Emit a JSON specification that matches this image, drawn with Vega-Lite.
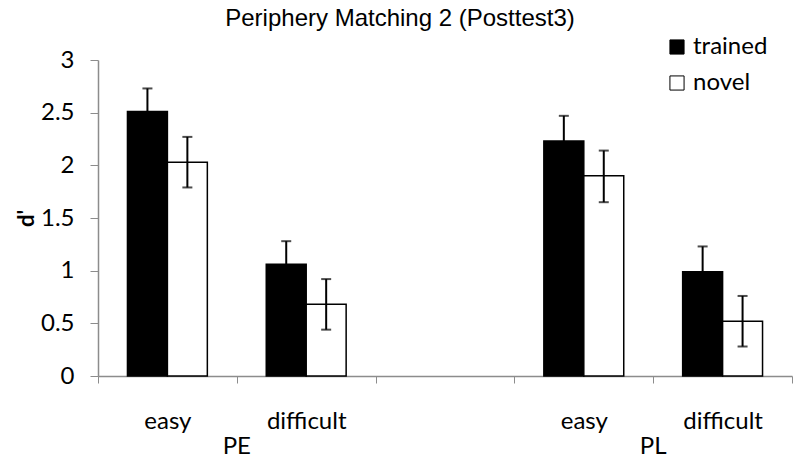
{
  "$schema": "https://vega.github.io/schema/vega-lite/v6.json",
  "width": 694,
  "height": 316,
  "autosize": {"type": "none"},
  "padding": {"left": 98, "top": 60, "right": 8, "bottom": 90},
  "background": "white",
  "title": {
    "text": "Periphery Matching 2 (Posttest3)",
    "font": "Liberation Sans",
    "fontSize": 24,
    "fontWeight": "normal",
    "color": "black",
    "anchor": "middle",
    "frame": "group",
    "dx": -45,
    "offset": 4
  },
  "config": {
    "view": {"stroke": null},
    "axis": {"grid": false}
  },
  "datasets": {
    "bars": [
      {"cat": "PE-easy", "cond": "trained", "d": 2.51, "lo": 2.29, "hi": 2.73},
      {"cat": "PE-easy", "cond": "novel", "d": 2.03, "lo": 1.79, "hi": 2.27},
      {"cat": "PE-difficult", "cond": "trained", "d": 1.06, "lo": 0.84, "hi": 1.28},
      {"cat": "PE-difficult", "cond": "novel", "d": 0.68, "lo": 0.44, "hi": 0.92},
      {"cat": "PL-easy", "cond": "trained", "d": 2.23, "lo": 1.99, "hi": 2.47},
      {"cat": "PL-easy", "cond": "novel", "d": 1.9, "lo": 1.65, "hi": 2.14},
      {"cat": "PL-difficult", "cond": "trained", "d": 0.99, "lo": 0.75, "hi": 1.23},
      {"cat": "PL-difficult", "cond": "novel", "d": 0.52, "lo": 0.28, "hi": 0.76}
    ],
    "groups": [
      {"at": "PE-difficult", "label": "PE"},
      {"at": "PL-difficult", "label": "PL"}
    ]
  },
  "layer": [
    {
      "data": {"name": "bars"},
      "mark": {"type": "bar", "stroke": "black", "strokeWidth": 1.5},
      "encoding": {
        "x": {
          "field": "cat",
          "type": "nominal",
          "scale": {"domain": ["PE-easy", "PE-difficult", "gap", "PL-easy", "PL-difficult"], "paddingInner": 0, "paddingOuter": 0},
          "axis": {
            "title": null,
            "labelExpr": "datum.value == 'gap' ? '' : split(datum.value, '-')[1]",
            "labelAngle": 0,
            "labelFont": "Lato",
            "labelFontSize": 24,
            "labelColor": "black",
            "labelPadding": 26,
            "tickBand": "extent",
            "tickSize": 7,
            "tickColor": "#8c8c8c",
            "domainColor": "#8c8c8c",
            "domainWidth": 1.5
          }
        },
        "xOffset": {
          "field": "cond",
          "type": "nominal",
          "scale": {"domain": ["trained", "novel"], "paddingInner": 0, "paddingOuter": 0.7375}
        },
        "y": {
          "field": "d",
          "type": "quantitative",
          "scale": {"domain": [0, 3], "nice": false},
          "axis": {
            "values": [0, 0.5, 1, 1.5, 2, 2.5, 3],
            "format": "~g",
            "title": "d'",
            "titleFont": "Lato",
            "titleFontWeight": "bold",
            "titleFontSize": 22,
            "titleColor": "black",
            "titlePadding": 2,
            "labelFont": "Lato",
            "labelFontSize": 24,
            "labelColor": "black",
            "labelPadding": 16,
            "tickSize": 8,
            "tickColor": "#8c8c8c",
            "domainColor": "#8c8c8c",
            "domainWidth": 1.5
          }
        },
        "fill": {
          "field": "cond",
          "type": "nominal",
          "scale": {"domain": ["trained", "novel"], "range": ["black", "white"]},
          "legend": {
            "title": null,
            "orient": "none",
            "legendX": 567,
            "legendY": -25,
            "symbolType": "square",
            "symbolSize": 200,
            "symbolStrokeColor": "black",
            "symbolStrokeWidth": 1,
            "labelFont": "Lato",
            "labelFontSize": 24,
            "labelColor": "black",
            "rowPadding": 12,
            "labelOffset": 4
          }
        }
      }
    },
    {
      "data": {"name": "bars"},
      "mark": {"type": "rule", "color": "black", "strokeWidth": 2},
      "encoding": {
        "x": {"field": "cat", "type": "nominal"},
        "xOffset": {"field": "cond", "type": "nominal"},
        "y": {"field": "lo", "type": "quantitative"},
        "y2": {"field": "hi"}
      }
    },
    {
      "data": {"name": "bars"},
      "mark": {"type": "tick", "color": "black", "size": 10, "thickness": 2, "orient": "horizontal"},
      "encoding": {
        "x": {"field": "cat", "type": "nominal"},
        "xOffset": {"field": "cond", "type": "nominal"},
        "y": {"field": "hi", "type": "quantitative"}
      }
    },
    {
      "data": {"name": "bars"},
      "mark": {"type": "tick", "color": "black", "size": 10, "thickness": 2, "orient": "horizontal"},
      "encoding": {
        "x": {"field": "cat", "type": "nominal"},
        "xOffset": {"field": "cond", "type": "nominal"},
        "y": {"field": "lo", "type": "quantitative"}
      }
    },
    {
      "data": {"name": "groups"},
      "mark": {"type": "text", "font": "Lato", "fontSize": 24, "color": "black", "dy": 71, "baseline": "middle"},
      "encoding": {
        "x": {"field": "at", "type": "nominal", "bandPosition": 0},
        "y": {"datum": 0, "type": "quantitative"},
        "text": {"field": "label"}
      }
    }
  ]
}
